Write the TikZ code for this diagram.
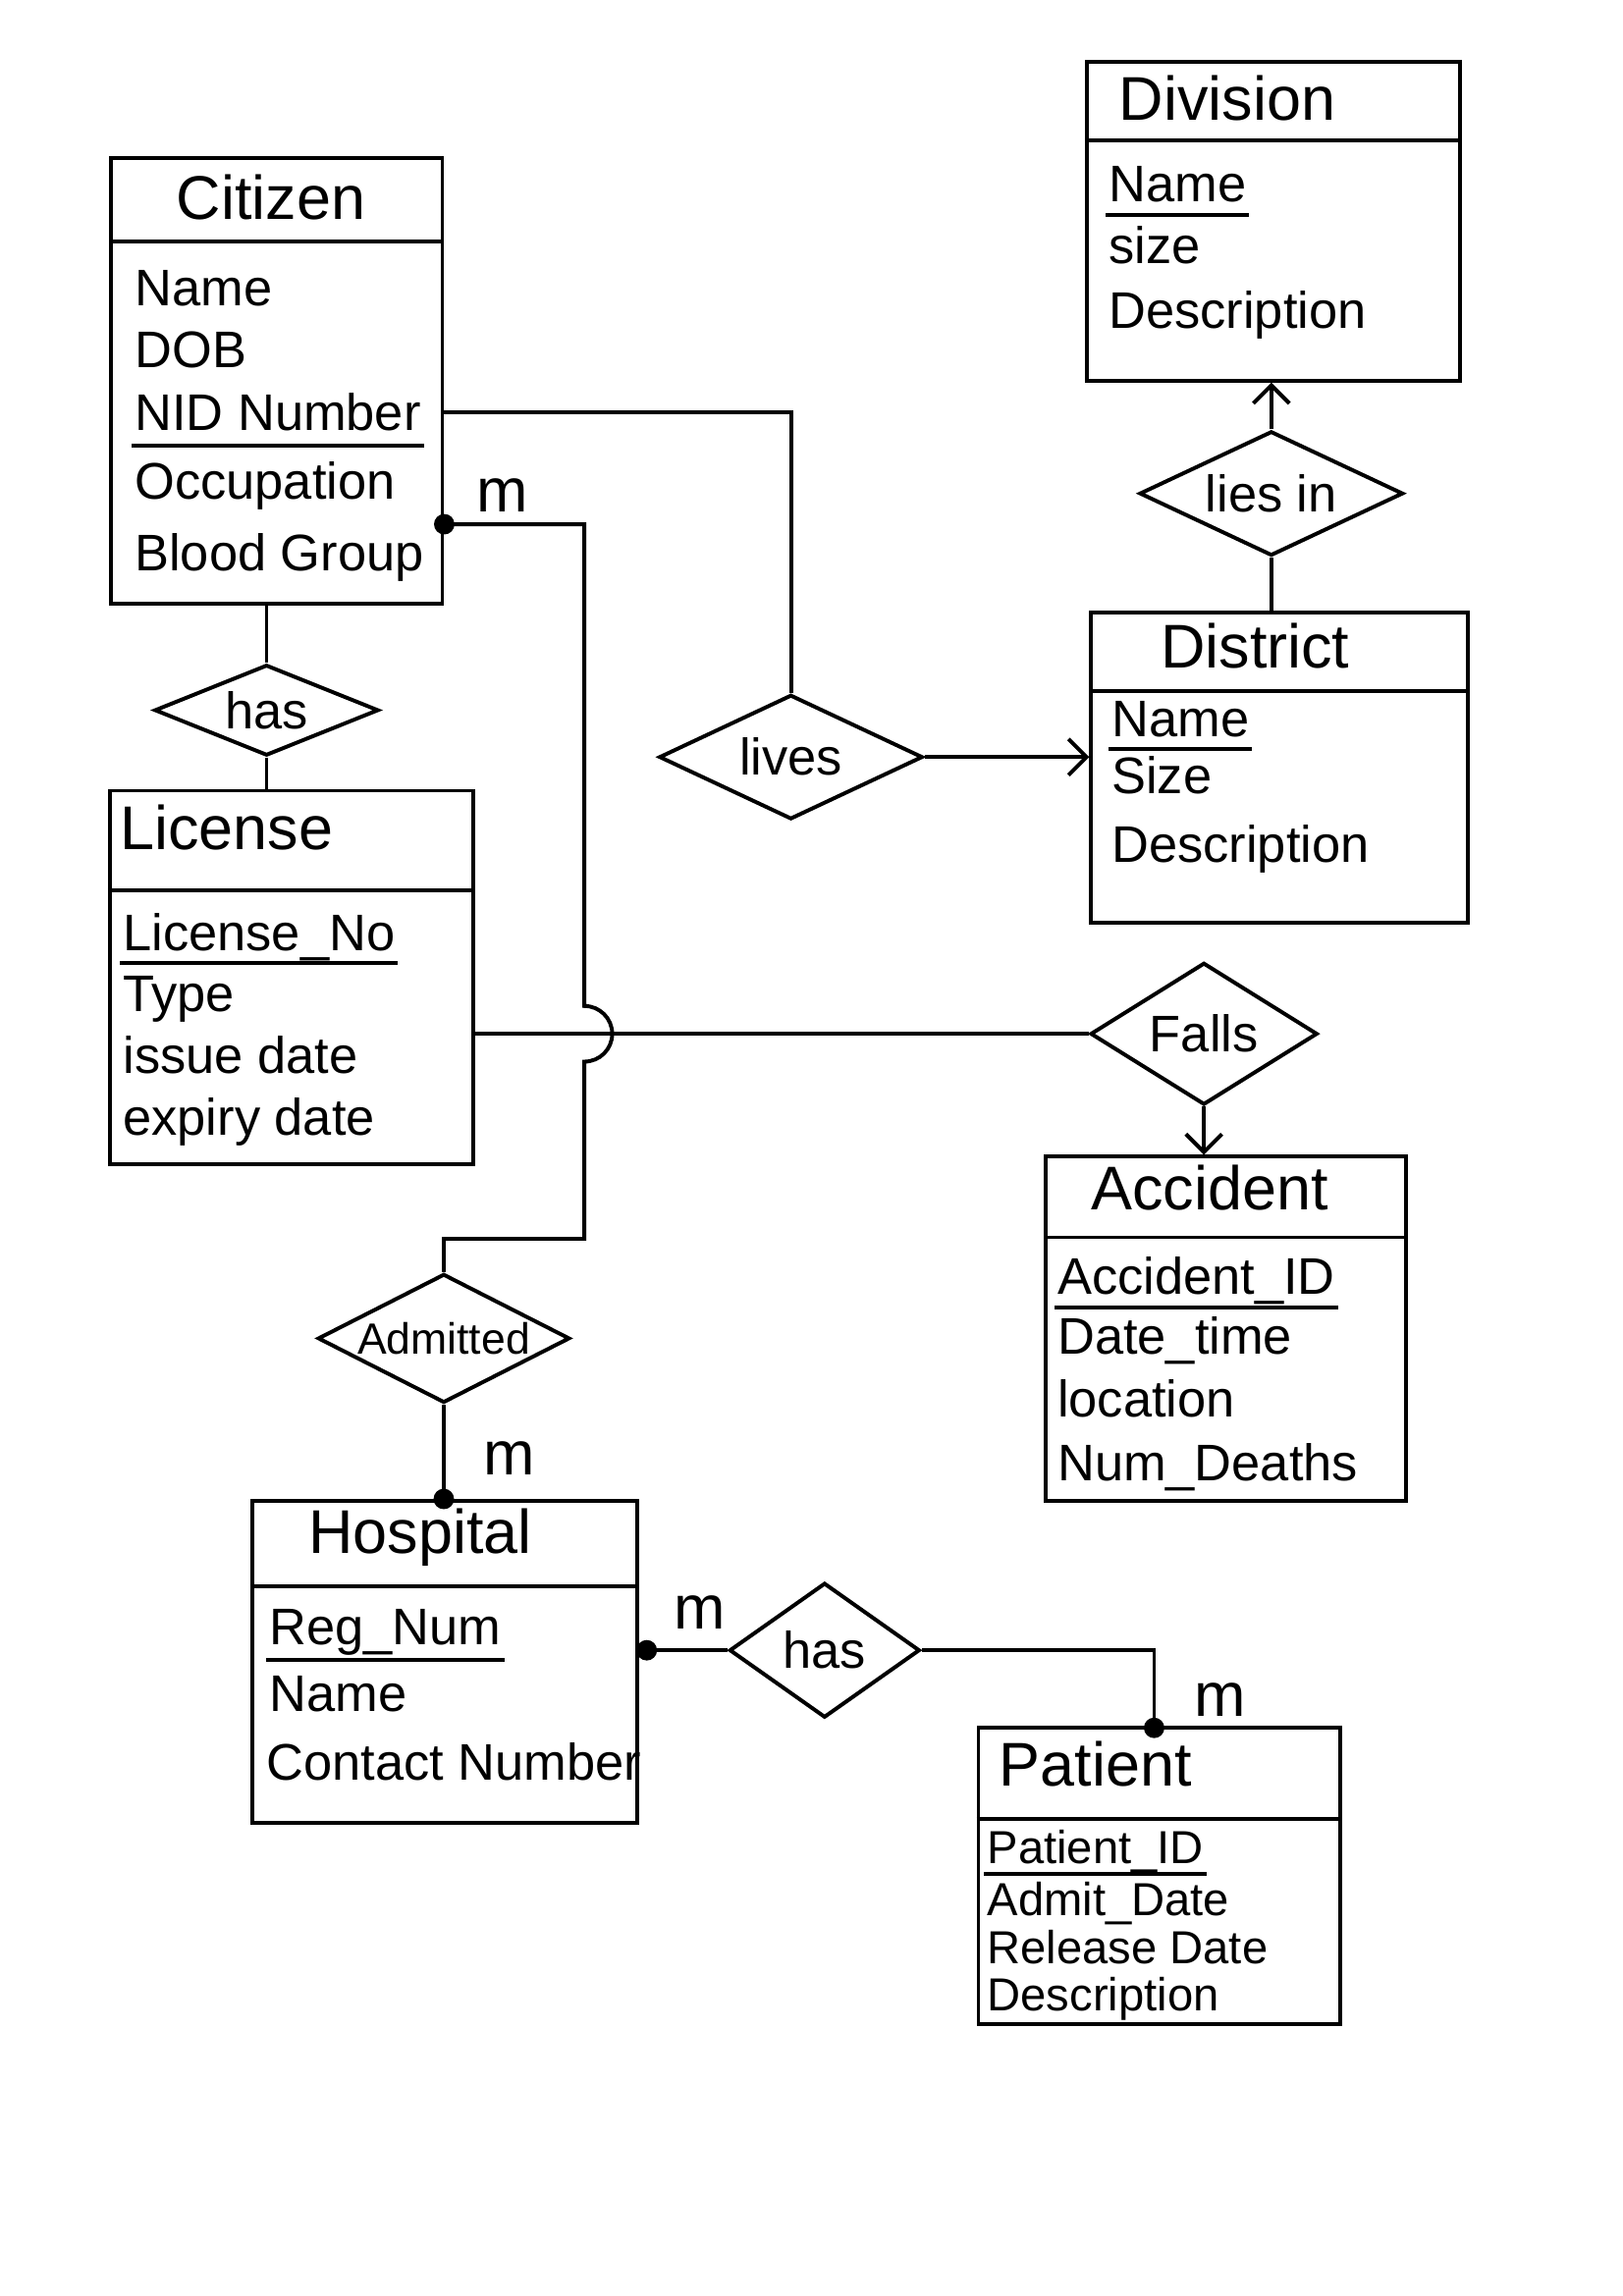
\documentclass[tikz,border=0pt]{standalone}
\usepackage{fontspec}
\setmainfont{Liberation Sans}
\usetikzlibrary{shapes.geometric,fit,arrows.meta}

\begin{document}
\begin{tikzpicture}[x=0.02cm, y=0.02cm,
  entity/.style={draw, line width=1.5pt, inner sep=0pt},
  rel/.style={draw, diamond, aspect=2, inner sep=0pt, line width=1.5pt, font=\fontsize{20}{24}\selectfont},
  enttitle/.style={anchor=base, inner sep=1pt, font=\fontsize{24}{28}\selectfont},
  attr/.style={anchor=base west, inner sep=1pt, font=\fontsize{20}{24}\selectfont},
  card/.style={font=\fontsize{24}{28}\selectfont},
  link/.style={line width=1.5pt},
  arr/.style={line width=1.5pt, -{Straight Barb[length=7pt,width=14pt]}}]
\useasboundingbox (0,0) rectangle (1108,-1568);

\node[entity, fit={(76,-108) (302,-412)}] (citizen) {};
\draw[link] (citizen.west |- 0,-165) -- (citizen.east |- 0,-165);
\node[enttitle] (citizenT) at (185,-150) {Citizen};
\node[attr] (cName) at (90,-209) {Name};
\node[attr] (cDob) at (90,-251) {DOB};
\node[attr] (cNid) at (90,-294) {NID Number};
\node[attr] (cOcc) at (90,-341) {Occupation};
\node[attr] (cBlood) at (90,-390) {Blood Group};
\draw[link] ([yshift=-6pt]cNid.base west) -- ([yshift=-6pt]cNid.base east);

\node[entity, fit={(742,-42) (997,-260)}] (division) {};
\draw[link] (division.west |- 0,-96) -- (division.east |- 0,-96);
\node[enttitle] (divisionT) at (838,-82) {Division};
\node[attr] (dvName) at (755,-138) {Name};
\node[attr] (dvSize) at (755,-180) {size};
\node[attr] (dvDesc) at (755,-224) {Description};
\draw[link] ([yshift=-5pt]dvName.base west) -- ([yshift=-5pt]dvName.base east);

\node[entity, fit={(745,-418) (1002,-630)}] (district) {};
\draw[link] (district.west |- 0,-472) -- (district.east |- 0,-472);
\node[enttitle] (districtT) at (857,-456) {District};
\node[attr] (dsName) at (757,-503) {Name};
\node[attr] (dsSize) at (757,-542) {Size};
\node[attr] (dsDesc) at (757,-589) {Description};
\draw[link] ([yshift=-5pt]dsName.base west) -- ([yshift=-5pt]dsName.base east);

\node[entity, fit={(75,-540) (323,-795)}] (license) {};
\draw[link] (license.west |- 0,-608) -- (license.east |- 0,-608);
\node[enttitle, anchor=base west] (licenseT) at (80,-580) {License};
\node[attr] (lNo) at (82,-649) {License\_No};
\node[attr] (lType) at (82,-691) {Type};
\node[attr] (lIssue) at (82,-733) {issue date};
\node[attr] (lExp) at (82,-775) {expiry date};
\draw[link] ([yshift=-5pt]lNo.base west) -- ([yshift=-5pt]lNo.base east);

\node[entity, fit={(714,-790) (960,-1025)}] (accident) {};
\draw[link] (accident.west |- 0,-845) -- (accident.east |- 0,-845);
\node[enttitle] (accidentT) at (826,-826) {Accident};
\node[attr] (aId) at (720,-884) {Accident\_ID};
\node[attr] (aDate) at (720,-925) {Date\_time};
\node[attr] (aLoc) at (720,-968) {location};
\node[attr] (aNum) at (720,-1011) {Num\_Deaths};
\draw[link] ([yshift=-5pt]aId.base west) -- ([yshift=-5pt]aId.base east);

\node[entity, fit={(172,-1025) (435,-1245)}] (hospital) {};
\draw[link] (hospital.west |- 0,-1083) -- (hospital.east |- 0,-1083);
\node[enttitle] (hospitalT) at (287,-1061) {Hospital};
\node[attr] (hReg) at (182,-1123) {Reg\_Num};
\node[attr] (hName) at (182,-1169) {Name};
\node[attr] (hContact) at (180,-1216) {Contact Number};
\draw[link] ([yshift=-6pt]hReg.base west) -- ([yshift=-6pt]hReg.base east);

\node[entity, fit={(668,-1180) (915,-1382)}] (patient) {};
\draw[link] (patient.west |- 0,-1242) -- (patient.east |- 0,-1242);
\node[enttitle] (patientT) at (748,-1220) {Patient};
\node[attr, font=\fontsize{18}{22}\selectfont] (pId) at (672,-1273) {Patient\_ID};
\node[attr, font=\fontsize{18}{22}\selectfont] (pAdmit) at (672,-1308) {Admit\_Date};
\node[attr, font=\fontsize{18}{22}\selectfont] (pRelease) at (672,-1341) {Release Date};
\node[attr, font=\fontsize{18}{22}\selectfont] (pDesc) at (672,-1373) {Description};
\draw[link] ([yshift=-4pt]pId.base west) -- ([yshift=-4pt]pId.base east);

\node[rel, minimum width=3.06cm, minimum height=1.24cm] (hasL) at (182,-485) {has};
\node[rel, minimum width=3.6cm, minimum height=1.7cm] (lives) at (540,-517) {lives};
\node[rel, minimum width=3.6cm, minimum height=1.7cm] (liesIn) at (868,-337) {lies in};
\node[rel, minimum width=3.1cm, minimum height=1.94cm] (falls) at (822,-706) {Falls};
\node[rel, minimum width=3.44cm, minimum height=1.76cm, font=\fontsize{17}{21}\selectfont] (admitted) at (303,-914) {Admitted};
\node[rel, minimum width=2.6cm, minimum height=1.84cm] (hasP) at (563,-1127) {has};

\draw[link] (hasL.north |- citizen.south) -- (hasL.north);
\draw[link] (hasL.south) -- (hasL.south |- license.north);
\draw[link] (citizen.east |- cNid) -| (lives.north);
\draw[arr] (lives.east) -- (lives.east -| district.west);
\draw[arr] (liesIn.north) -- (liesIn.north |- division.south);
\draw[link] (liesIn.south) -- (liesIn.south |- district.north);
\draw[link] (falls.west -| license.east) -- (falls.west);
\draw[arr] (falls.south) -- (falls.south |- accident.north);

\coordinate (cDot) at (citizen.east |- 0,-358);
\draw[link] (cDot) -| (399,-687) arc[start angle=90, end angle=-90, radius=19] -- (399,-846) -| (admitted.north);
\fill (cDot) circle[radius=7];
\node[card] (m1) at (343,-338) {m};

\coordinate (hDot) at (admitted.south |- hospital.north);
\draw[link] (admitted.south) -- (hDot);
\fill (hDot) circle[radius=7];
\node[card] (m2) at (348,-996) {m};

\coordinate (hDot2) at (hasP.west -| hospital.east);
\draw[link] (hDot2) -- (hasP.west);
\fill ([xshift=3pt]hDot2) circle[radius=7];
\node[card] (m3) at (478,-1101) {m};

\coordinate (pDot) at (788,-1180);
\draw[link] (hasP.east) -| (pDot);
\fill (pDot) circle[radius=7];
\node[card] (m4) at (833,-1161) {m};
\end{tikzpicture}
\end{document}
